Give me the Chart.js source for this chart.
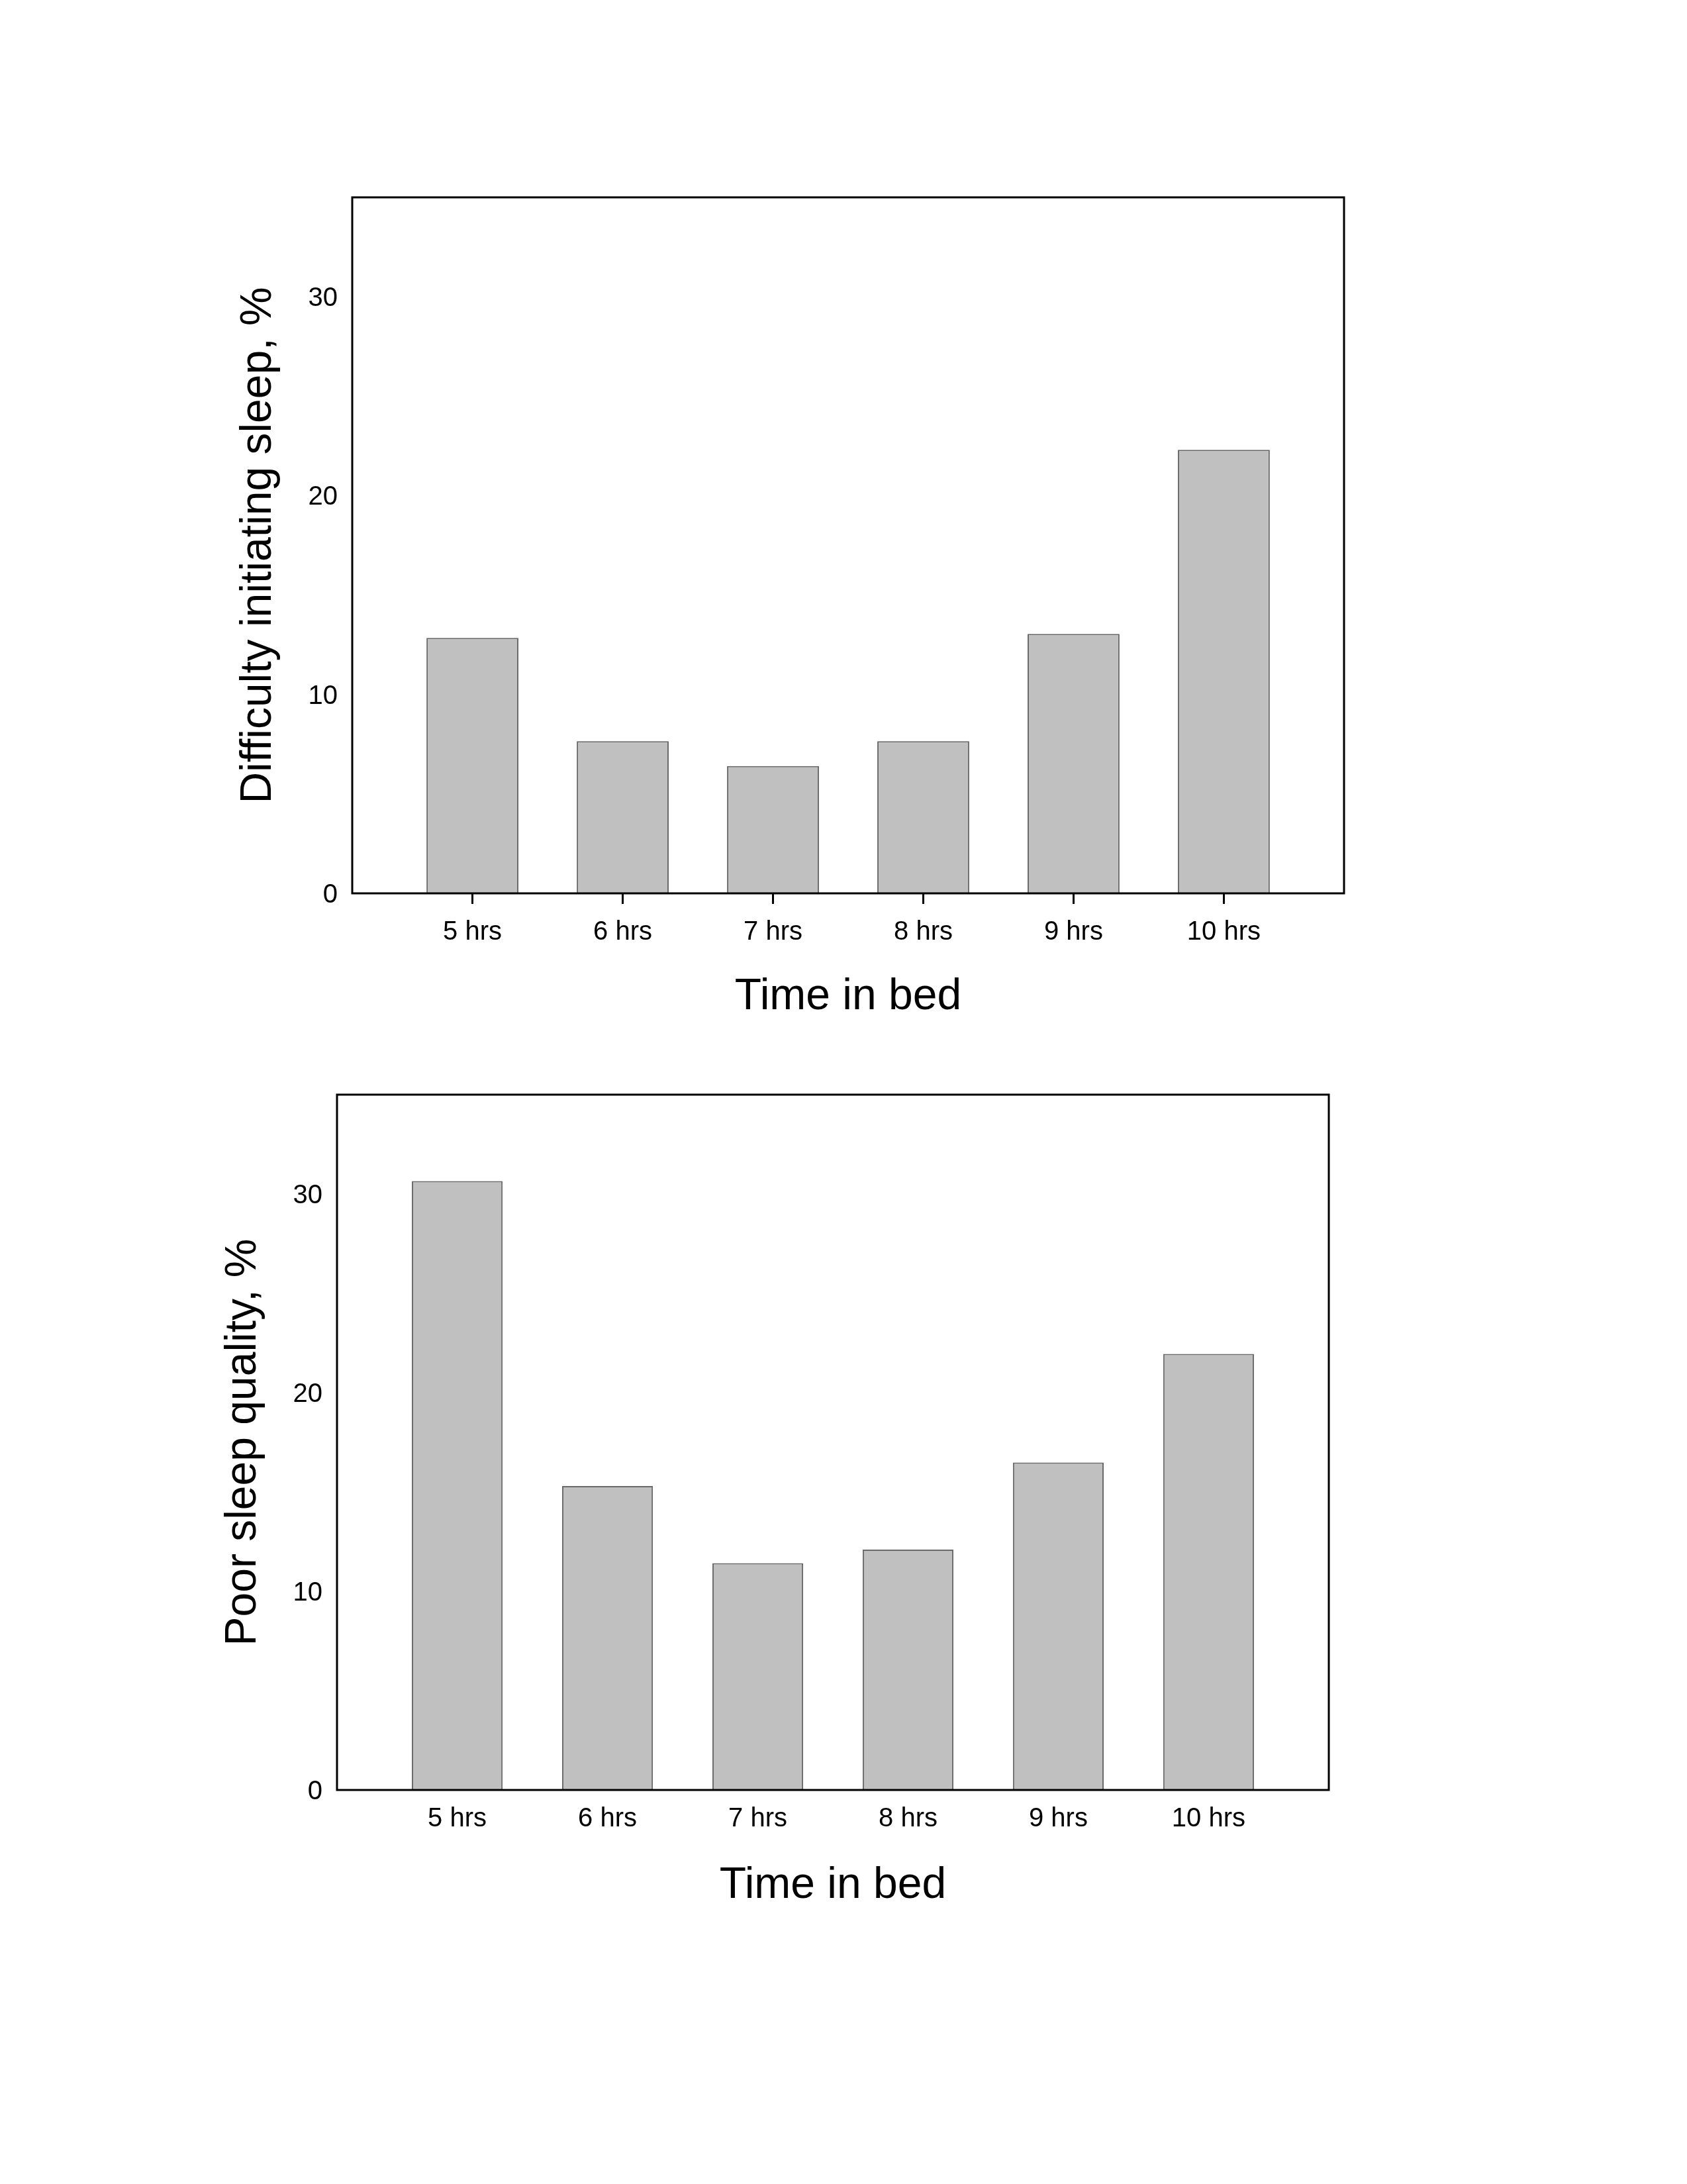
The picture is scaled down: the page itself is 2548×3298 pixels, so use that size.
<!DOCTYPE html>
<html>
<head>
<meta charset="utf-8">
<title>Time in bed</title>
<script src="https://cdn.jsdelivr.net/npm/chart.js@4.4.1/dist/chart.umd.min.js"></script>
<style>
  html, body { margin: 0; padding: 0; background: #fff; }
  body { width: 2548px; height: 3298px; position: relative; overflow: hidden; }
  canvas { position: absolute; left: 0; }
  #chartTop { top: 0; }
  #chartBottom { top: 1600px; }
</style>
</head>
<body>
<canvas id="chartTop" width="2548" height="1600"></canvas>
<canvas id="chartBottom" width="2548" height="1698"></canvas>
<script>
(() => {
  'use strict';

  const hours = [5, 6, 7, 8, 9, 10];
  const hourLabels = ['5 hrs', '6 hrs', '7 hrs', '8 hrs', '9 hrs', '10 hrs'];
  const yTicks = [0, 10, 20, 30];
  const difficultyInitiating = [12.85, 7.65, 6.4, 7.65, 13.05, 22.3];
  const poorQuality = [30.65, 15.3, 11.42, 12.1, 16.48, 21.95];

  Chart.defaults.font.family = "'Liberation Sans', Arial, sans-serif";
  Chart.defaults.color = '#000';

  // black box round the plot area
  const frame = {
    id: 'frame',
    afterDraw(chart) {
      const { ctx, chartArea: a } = chart;
      ctx.save();
      ctx.strokeStyle = '#000';
      ctx.lineWidth = 3;
      ctx.strokeRect(a.left, a.top, a.right - a.left, a.bottom - a.top);
      ctx.restore();
    }
  };

  function makeChart(id, values, yTitle, cfg) {
    return new Chart(document.getElementById(id), {
      type: 'bar',
      data: {
        datasets: [{
          data: hours.map((h, i) => ({ x: h, y: values[i] })),
          backgroundColor: '#c0c0c0',
          borderColor: '#6a6a6a',
          borderWidth: 2,
          barPercentage: cfg.barPct,
          categoryPercentage: 1
        }]
      },
      options: {
        responsive: false,
        animation: false,
        layout: { padding: cfg.padding },
        plugins: { legend: { display: false }, tooltip: { enabled: false } },
        scales: {
          x: {
            type: 'linear',
            offset: false,
            min: 4.2,
            max: 10.8,
            afterBuildTicks: s => { s.ticks = hours.map(v => ({ value: v })); },
            afterFit: s => { s.height = cfg.xHeight; },
            border: { display: false },
            grid: {
              display: true,
              offset: false,
              drawOnChartArea: false,
              drawTicks: cfg.xTickMarks,
              tickLength: 16,
              tickWidth: 3,
              tickColor: '#000'
            },
            ticks: {
              padding: cfg.xTickMarks ? 19 : 20,
              font: { size: 40 },
              callback: v => hourLabels[hours.indexOf(v)]
            },
            title: {
              display: true,
              text: 'Time in bed',
              font: { size: 66 },
              padding: 0
            }
          },
          y: {
            min: 0,
            max: 35,
            afterBuildTicks: s => { s.ticks = yTicks.map(v => ({ value: v })); },
            afterFit: s => { s.width = 181; },
            border: { display: false },
            grid: { display: false, drawTicks: false },
            ticks: { padding: 22, labelOffset: 3, font: { size: 40 } },
            title: {
              display: true,
              text: yTitle,
              font: { size: 66 },
              padding: 0
            }
          }
        }
      },
      plugins: [frame]
    });
  }

  makeChart('chartTop', difficultyInitiating, 'Difficulty initiating sleep, %', {
    padding: { left: 351, right: 518, top: 298, bottom: 55 },
    xHeight: 196,
    xTickMarks: true,
    barPct: 0.612
  });

  makeChart('chartBottom', poorQuality, 'Poor sleep quality, %', {
    padding: { left: 328, right: 541, top: 53, bottom: 411 },
    xHeight: 184,
    xTickMarks: false,
    barPct: 0.604
  });
})();
</script>
</body>
</html>
